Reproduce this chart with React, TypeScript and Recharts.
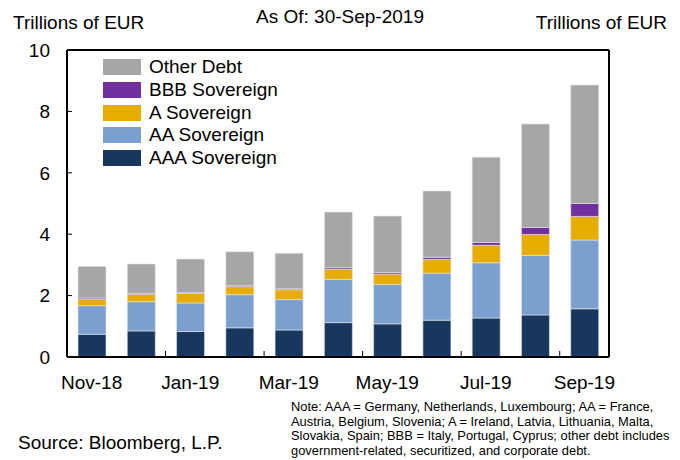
import {
  BarChart,
  Bar,
  XAxis,
  YAxis,
  Legend,
  ReferenceLine,
} from "recharts";

const months = [
  "Nov-18", "Dec-18", "Jan-19", "Feb-19", "Mar-19", "Apr-19",
  "May-19", "Jun-19", "Jul-19", "Aug-19", "Sep-19",
];
const aaa = [0.74, 0.85, 0.83, 0.95, 0.88, 1.12, 1.08, 1.2, 1.27, 1.37, 1.57];
const aa = [0.93, 0.95, 0.93, 1.08, 0.99, 1.41, 1.28, 1.53, 1.8, 1.94, 2.24];
const aRated = [0.21, 0.24, 0.31, 0.26, 0.32, 0.33, 0.34, 0.45, 0.57, 0.68, 0.77];
const bbb = [0.04, 0.04, 0.02, 0.03, 0.03, 0.05, 0.05, 0.07, 0.09, 0.23, 0.42];
const other = [1.03, 0.95, 1.1, 1.11, 1.16, 1.81, 1.84, 2.16, 2.78, 3.37, 3.86];
const yTicks = [0, 2, 4, 6, 8, 10];
const legendOrder = ["Other Debt", "BBB Sovereign", "A Sovereign", "AA Sovereign", "AAA Sovereign"];

const data = months.map((month, i) => ({
  month,
  aaa: aaa[i],
  aa: aa[i],
  a: aRated[i],
  bbb: bbb[i],
  other: other[i],
}));

const FONT = "'Liberation Sans', Arial, sans-serif";

const LeftTick = ({ x, y, payload }: any) => (
  <g>
    <line x1={x + 17} x2={x + 22} y1={y} y2={y} stroke="#000" />
    <text x={x} y={y} dy="0.36em" textAnchor="end" fontSize={19} fill="#000" fontFamily={FONT}>
      {payload.value}
    </text>
  </g>
);

const RightTick = ({ x, y, payload }: any) => (
  <g>
    <line x1={x - 17} x2={x - 22} y1={y} y2={y} stroke="#000" />
    <text x={x} y={y} dy="0.36em" textAnchor="start" fontSize={19} fill="#000" fontFamily={FONT}>
      {payload.value}
    </text>
  </g>
);

const MonthTick = ({ x, y, payload, index }: any) => {
  const half = payload.offset || 24.6;
  if (index % 2 === 1) {
    // small inward tick at the boundary after every second month
    return <line x1={x + half} x2={x + half} y1={y - 25} y2={y - 31} stroke="#000" />;
  }
  return (
    <text x={x} y={y} dy="0.36em" textAnchor="middle" fontSize={19} fill="#000" fontFamily={FONT}>
      {payload.value}
    </text>
  );
};

const LegendBox = ({ payload }: any) => {
  const items = [...(payload || [])].sort(
    (p: any, q: any) => legendOrder.indexOf(p.value) - legendOrder.indexOf(q.value)
  );
  return (
    <div style={{ fontFamily: FONT, fontSize: 19, color: "#000" }}>
      {items.map((item: any) => (
        <div key={item.value} style={{ display: "flex", alignItems: "center", height: 22.7 }}>
          <span style={{ width: 38, height: 16, background: item.color, marginRight: 8 }} />
          {item.value}
        </div>
      ))}
    </div>
  );
};

const App = () => {
  return (
    <div style={{ position: "absolute", left: 0, top: 0, width: 680, height: 460, background: "#fff", fontFamily: FONT }}>
      <div style={{ position: "absolute", left: 13, top: 12, fontSize: 19 }}>Trillions of EUR</div>
      <div style={{ position: "absolute", left: 0, width: 680, top: 6, fontSize: 19, textAlign: "center" }}>
        As Of: 30-Sep-2019
      </div>
      <div style={{ position: "absolute", right: 13, top: 12, fontSize: 19 }}>Trillions of EUR</div>

      <BarChart
        width={680}
        height={460}
        data={data}
        margin={{ top: 50, right: 11, left: 7, bottom: 73 }}
        barSize={28}
      >
        <XAxis
          dataKey="month"
          interval={0}
          tickSize={0}
          tickMargin={25}
          tickLine={false}
          axisLine={{ stroke: "#000", strokeWidth: 2 }}
          tick={<MonthTick />}
        />
        <YAxis
          yAxisId="left"
          domain={[0, 10]}
          ticks={yTicks}
          width={60}
          tickSize={0}
          tickMargin={17}
          tickLine={false}
          axisLine={{ stroke: "#000", strokeWidth: 2 }}
          tick={<LeftTick />}
        />
        <YAxis
          yAxisId="right"
          orientation="right"
          domain={[0, 10]}
          ticks={yTicks}
          width={60}
          tickSize={0}
          tickMargin={17}
          tickLine={false}
          axisLine={{ stroke: "#000", strokeWidth: 2 }}
          tick={<RightTick />}
        />
        <ReferenceLine yAxisId="left" y={10} stroke="#000" strokeWidth={2} />
        <Legend
          layout="vertical"
          align="center"
          verticalAlign="middle"
          content={<LegendBox />}
          wrapperStyle={{ left: 103, top: 56, width: "auto" }}
        />
        <Bar yAxisId="left" dataKey="aaa" name="AAA Sovereign" stackId="s" fill="#17375E" stroke="#e6e6e6" strokeWidth={0.6} isAnimationActive={false} />
        <Bar yAxisId="left" dataKey="aa" name="AA Sovereign" stackId="s" fill="#7BA0CF" stroke="#e6e6e6" strokeWidth={0.6} isAnimationActive={false} />
        <Bar yAxisId="left" dataKey="a" name="A Sovereign" stackId="s" fill="#E6AC00" stroke="#e6e6e6" strokeWidth={0.6} isAnimationActive={false} />
        <Bar yAxisId="left" dataKey="bbb" name="BBB Sovereign" stackId="s" fill="#7030A0" stroke="#e6e6e6" strokeWidth={0.6} isAnimationActive={false} />
        <Bar yAxisId="left" dataKey="other" name="Other Debt" stackId="s" fill="#A6A6A6" stroke="#e6e6e6" strokeWidth={0.6} isAnimationActive={false} />
      </BarChart>

      <div style={{ position: "absolute", left: 18, top: 432, fontSize: 19 }}>Source: Bloomberg, L.P.</div>
      <div style={{ position: "absolute", left: 291, top: 400, fontSize: 12.9, lineHeight: "14.6px", whiteSpace: "nowrap" }}>
        Note: AAA = Germany, Netherlands, Luxembourg; AA = France,
        <br />
        Austria, Belgium, Slovenia; A = Ireland, Latvia, Lithuania, Malta,
        <br />
        Slovakia, Spain; BBB = Italy, Portugal, Cyprus; other debt includes
        <br />
        government-related, securitized, and corporate debt.
      </div>
    </div>
  );
};

export default App;
